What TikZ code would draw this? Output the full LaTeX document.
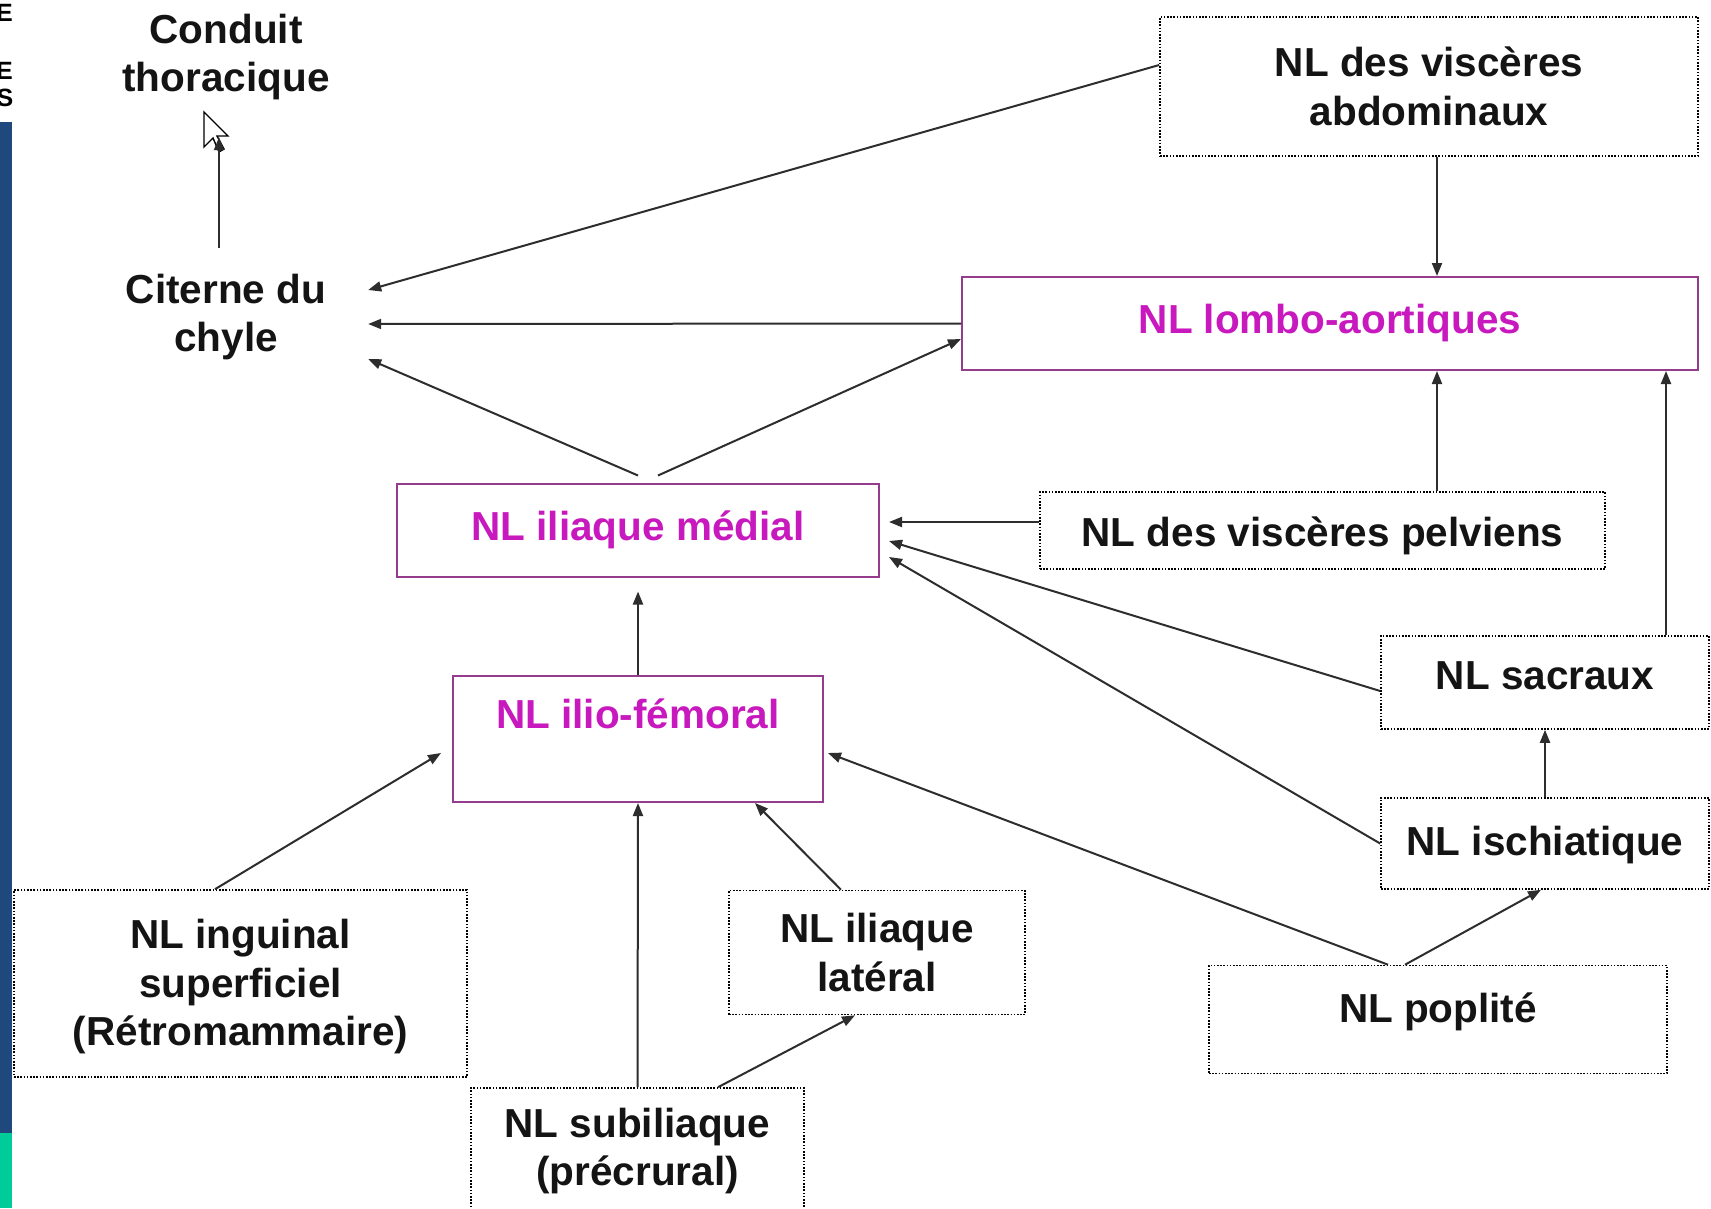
\documentclass[tikz,border=0pt]{standalone}
\usepackage{fontspec}
\setmainfont{Liberation Sans}
\usetikzlibrary{arrows.meta}
\definecolor{txt}{RGB}{20,20,20}
\definecolor{magtxt}{RGB}{200,25,190}
\definecolor{magline}{RGB}{150,60,140}
\definecolor{stripblue}{RGB}{31,73,125}
\definecolor{stripgreen}{RGB}{0,204,153}
\definecolor{linecol}{RGB}{45,45,45}
\newcommand{\dn}[2]{\raisebox{-#1}[\height][\depth]{\begin{tabular}{@{}c@{}}#2\end{tabular}}}
\tikzset{
  lbl/.style={align=center, inner sep=0pt, text=txt, font=\bfseries\fontsize{40.5}{48.5}\selectfont},
  dotbox/.style={lbl, draw=black, line width=1.6pt, dash pattern=on 1.6pt off 1.6pt},
  magbox/.style={lbl, draw=magline, line width=2pt, text=magtxt},
  arr/.style={draw=linecol, line width=2pt, -{Triangle[length=13pt,width=10pt]}},
  edgeletter/.style={inner sep=0pt, anchor=base east, text=black, font=\bfseries\fontsize{25}{28}\selectfont}
}
\begin{document}
\begin{tikzpicture}[x=1pt,y=-1pt]
\useasboundingbox[fill=white] (0,0) rectangle (1711,1208);
% left edge strip
\fill[stripblue] (0,122) rectangle (12,1133);
\fill[stripgreen] (0,1133) rectangle (12,1208);
\begin{scope}
  \clip (0,0) rectangle (12,120);
  \node[edgeletter] (le1) at (13,21) {E};
  \node[edgeletter] (le2) at (13,79) {E};
  \node[edgeletter] (le3) at (13.5,106) {S};
\end{scope}

% text nodes
\node[lbl, minimum width=200pt, minimum height=166pt] (conduit) at (226,54) {\dn{4pt}{Conduit\\thoracique}};
\node[lbl, minimum width=284pt, minimum height=134pt] (citerne) at (226,315) {\dn{3pt}{Citerne du\\chyle}};

% boxes
\node[dotbox, minimum width=538pt, minimum height=139pt] (abd) at (1429,86.5) {NL des viscères\\abdominaux};
\node[magbox, minimum width=736pt, minimum height=93pt] (lombo) at (1330,323.5) {NL lombo-aortiques};
\node[magbox, minimum width=482pt, minimum height=93pt] (medial) at (638,530) {NL iliaque médial};
\node[magbox, minimum width=370pt, minimum height=126pt] (iliofem) at (638,739) {\dn{4pt}{NL ilio-fémoral\\~}};
\node[dotbox, minimum width=565pt, minimum height=77pt] (pelv) at (1322.5,530.5) {\dn{6pt}{NL des viscères pelviens}};
\node[dotbox, minimum width=328pt, minimum height=93pt] (sacr) at (1545,682.5) {\dn{-3pt}{NL sacraux}};
\node[dotbox, minimum width=328pt, minimum height=91pt] (isch) at (1545,843.5) {\dn{2pt}{NL ischiatique}};
\node[dotbox, minimum width=458pt, minimum height=108pt] (popl) at (1438,1019.5) {\dn{-7pt}{NL poplité}};
\node[dotbox, minimum width=296pt, minimum height=124pt] (latl) at (877,952.5) {\dn{5pt}{NL iliaque\\latéral}};
\node[dotbox, minimum width=453pt, minimum height=187pt] (ingu) at (240.5,983.5) {\dn{4pt}{NL inguinal\\superficiel\\(Rétromammaire)}};
\node[dotbox, minimum width=333pt, minimum height=122pt] (subil) at (637.5,1149) {\dn{3pt}{NL subiliaque\\(précrural)}};

% mouse cursor
\draw[line width=1.4pt, fill=white, line join=miter] (204,112) -- (204,147) -- (213,138) -- (219,152) -- (224,149) -- (217,136) -- (228,136) -- cycle;

% connectors
\draw[arr] ([xshift=-7pt]citerne.north) -- ([xshift=-7pt]conduit.south);
\draw[arr] ([yshift=21.5pt]abd.west) -- ([yshift=25pt]citerne.east);
\draw[arr] (lombo.west) -- ([yshift=-9pt]citerne.east);
\draw[arr] ([yshift=7pt]medial.north) -- ([yshift=-44pt]citerne.east);
\draw[arr] ([xshift=20pt,yshift=7pt]medial.north) -- ([yshift=-15.5pt]lombo.west);

\coordinate (abdS) at ([xshift=8pt]abd.south);
\draw[arr] (abdS) -- (abdS |- lombo.north);
\draw[arr] (abdS |- pelv.north) -- (abdS |- lombo.south);
\coordinate (sacrN) at ([xshift=121pt]sacr.north);
\draw[arr] (sacrN) -- (sacrN |- lombo.south);

\draw[arr] ([yshift=8.5pt]pelv.west) -- ([xshift=9pt,yshift=8pt]medial.east);
\draw[arr] ([yshift=-8.5pt]sacr.west) -- ([xshift=9pt,yshift=-11pt]medial.east);
\draw[arr] (isch.west) -- ([xshift=9pt,yshift=-27pt]medial.east);
\draw[arr] (isch.north) -- (sacr.south);
\draw[arr] ([xshift=-33pt]popl.north) -- ([xshift=-4pt]isch.south);
\draw[arr] ([xshift=-50pt]popl.north) -- ([xshift=4pt,yshift=-14pt]iliofem.east);
\draw[arr, shorten >=14pt] (iliofem.north) -- (medial.south);
\draw[arr] ([xshift=-25.5pt]ingu.north) -- ([xshift=-11pt,yshift=-14pt]iliofem.west);
\draw[arr] (subil.north) -- (iliofem.south);
\draw[arr] ([xshift=-36pt]latl.north) -- ([xshift=117pt]iliofem.south);
\draw[arr] ([xshift=80.5pt]subil.north) -- ([xshift=-22pt]latl.south);
\end{tikzpicture}
\end{document}
